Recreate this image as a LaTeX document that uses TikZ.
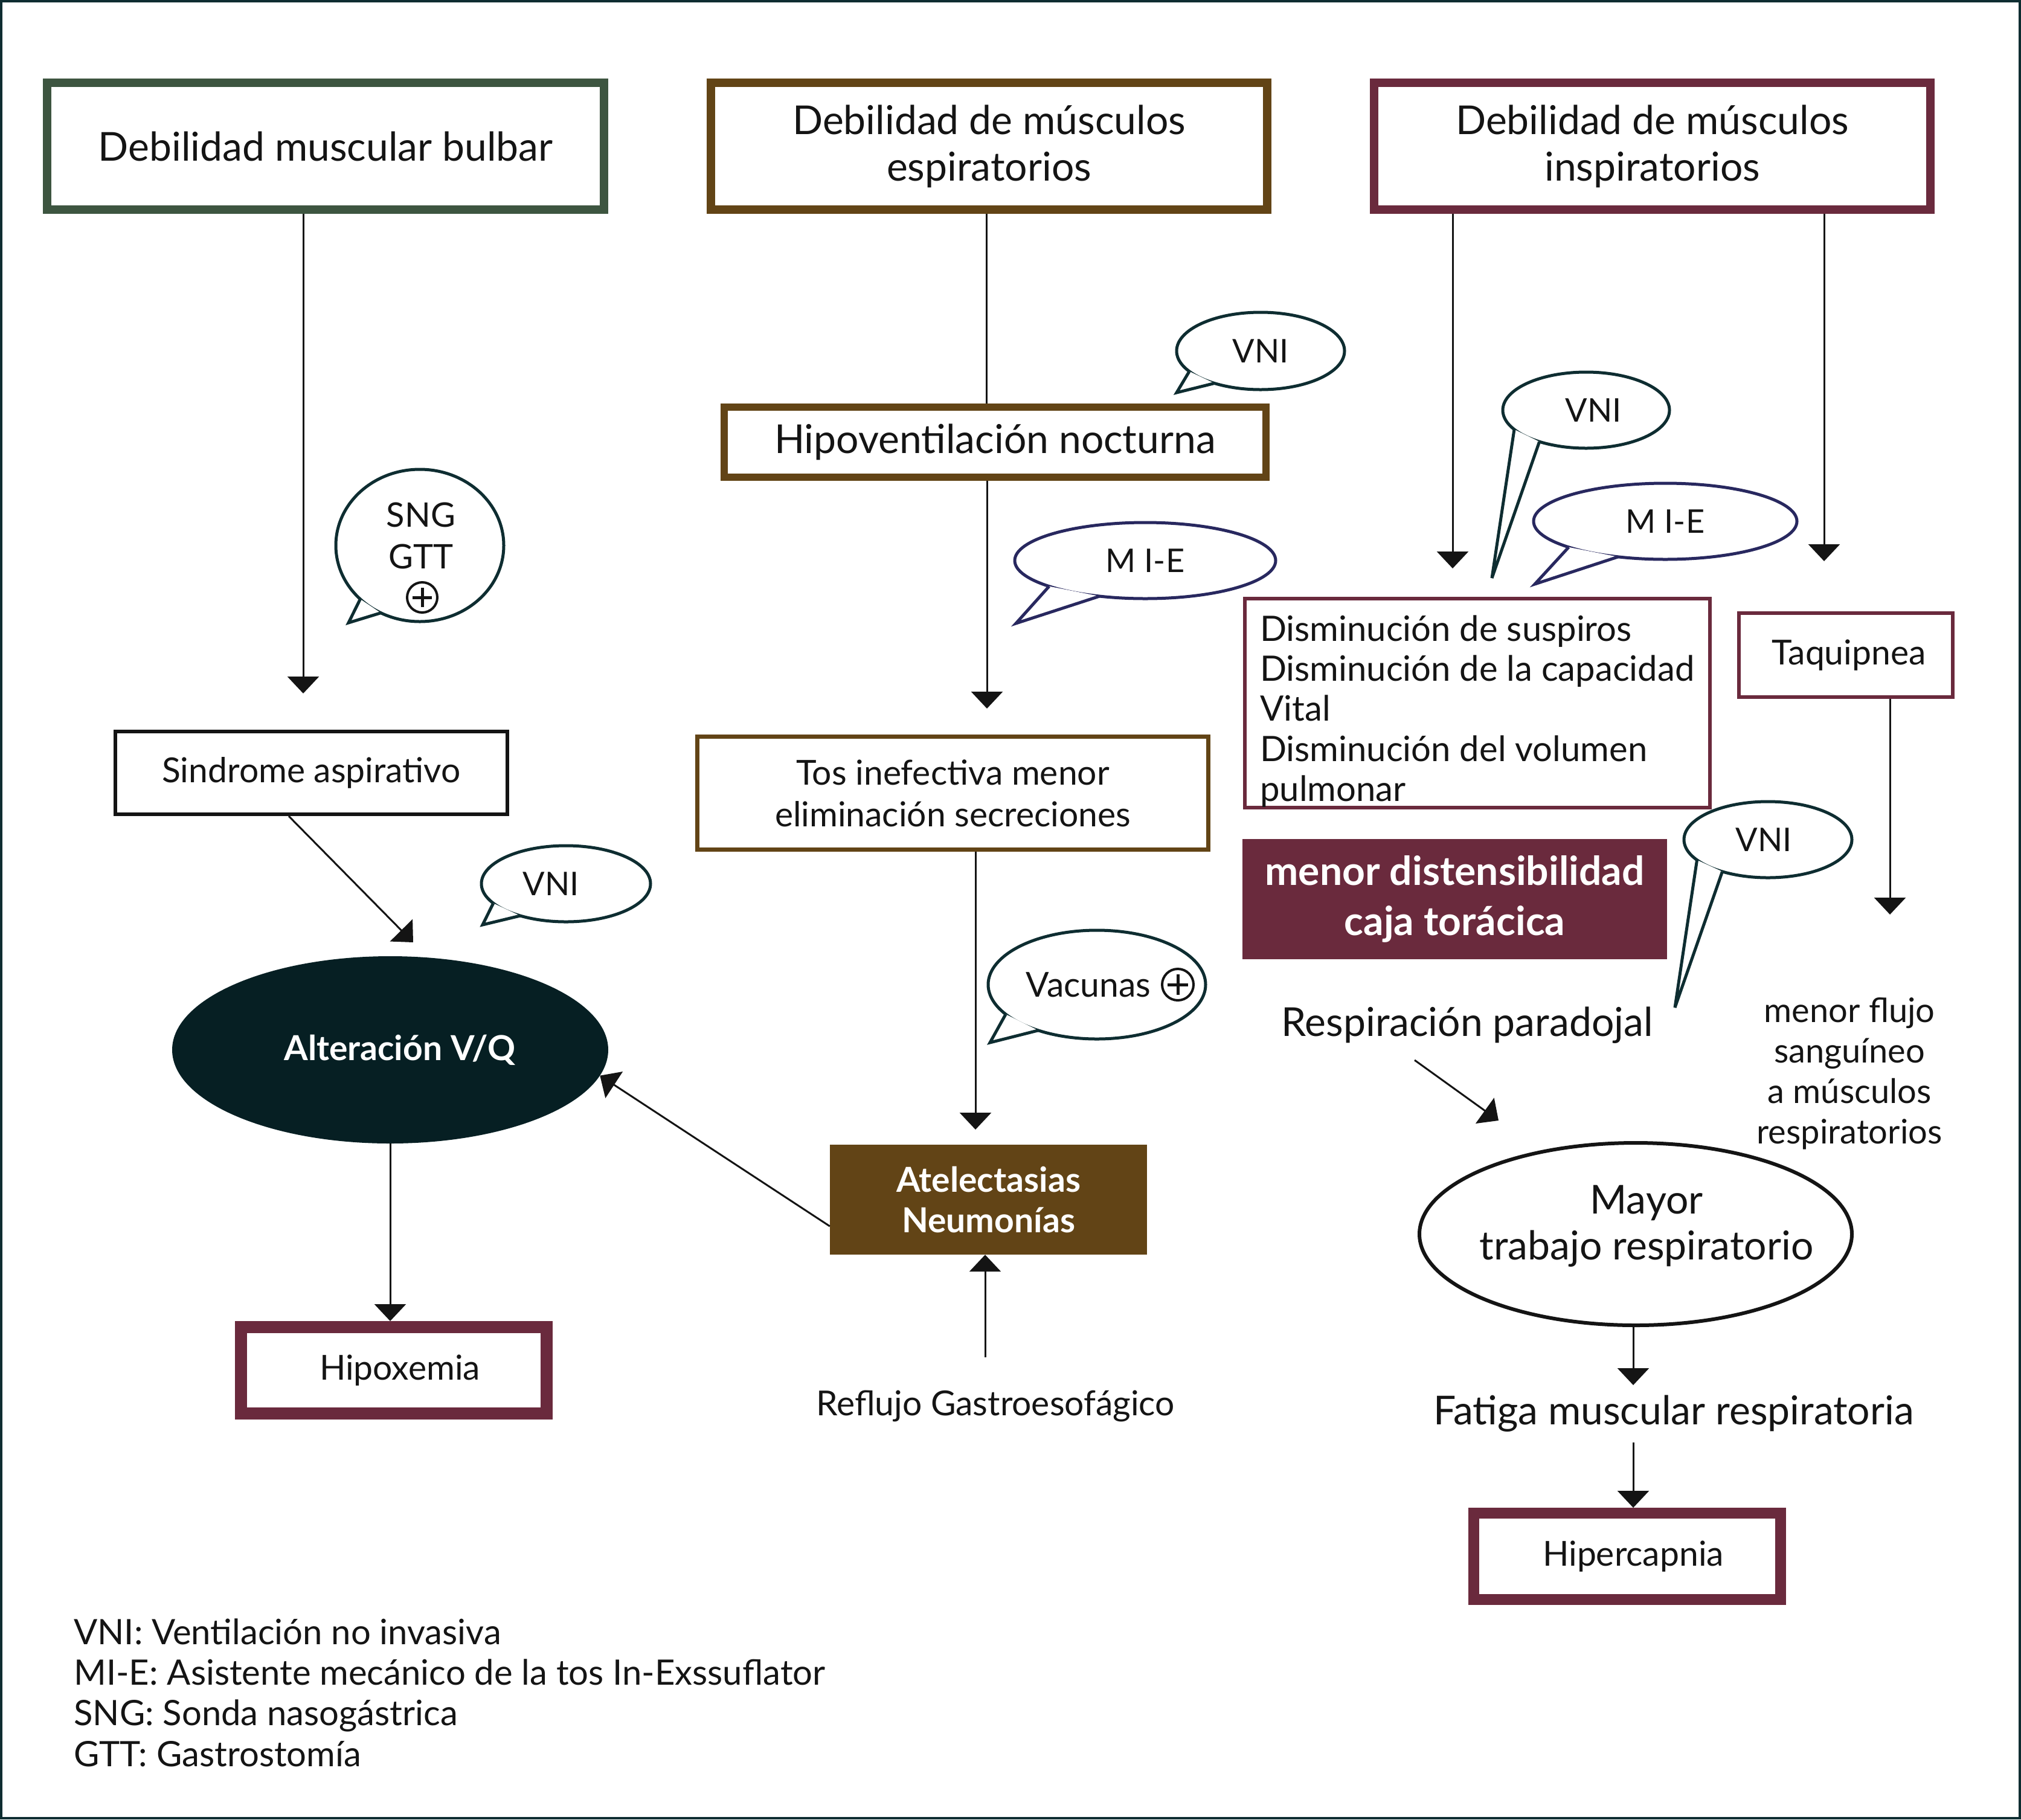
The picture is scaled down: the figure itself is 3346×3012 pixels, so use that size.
\documentclass[tikz,border=0pt]{standalone}
\usepackage{fontspec}
\setmainfont{Lato}
\usetikzlibrary{arrows.meta,shapes.geometric}
\definecolor{ink}{HTML}{141414}
\definecolor{cgreen}{HTML}{3D5540}
\definecolor{cbrown}{HTML}{624416}
\definecolor{cmaroon}{HTML}{6A2A3D}
\definecolor{cteal}{HTML}{0E2D31}
\definecolor{cnavy}{HTML}{28285F}
\definecolor{cdark}{HTML}{061F23}
\newcommand\fL{\fontsize{66}{77}\selectfont}
\newcommand\fM{\fontsize{57}{67}\selectfont}
\newcommand\fS{\fontsize{54}{60}\selectfont}
\begin{document}
\begin{tikzpicture}[x=1pt,y=-1pt,
  every node/.style={text=ink},
  hbox/.style={rectangle, draw=#1, line width=14pt, fill=white, inner sep=0pt, align=center, font=\fL},
  tbox/.style={rectangle, draw=#1, line width=6pt, fill=white, inner sep=0pt, align=center, font=\fM},
  fbox/.style={rectangle, fill=#1, inner sep=0pt, align=center, text=white},
  bub/.style={ellipse, draw=#1, line width=5pt, fill=white, inner sep=0pt, outer sep=0pt},
  tail/.style={draw=#1, line width=5pt, fill=white, line join=miter},
  ln/.style={draw=ink, line width=3pt},
  arr/.style={draw=ink, line width=3pt, -{Triangle[width=52pt,length=28pt]}},
  plusc/.style={circle, draw=ink, line width=4pt, minimum size=#1, inner sep=0pt}]
\useasboundingbox (0,0) rectangle (3346,3012);
\draw[cteal, line width=4pt] (2,2) rectangle (3344,3010);

% header boxes
\node[hbox=cgreen, minimum width=922pt, minimum height=210pt] (bulbar) at (539,242) {Debilidad muscular bulbar};
\node[hbox=cbrown, minimum width=921pt, minimum height=210pt] (espir) at (1637.5,242) {Debilidad de músculos\\espiratorios};
\node[hbox=cmaroon, minimum width=921pt, minimum height=210pt] (inspir) at (2735.5,242) {Debilidad de músculos\\inspiratorios};

% left column
\node[tbox=ink, minimum width=649pt, minimum height=137pt] (sind) at (515.5,1279.5) {Sindrome aspirativo};
\node[ellipse, fill=cdark, minimum width=722pt, minimum height=310pt, inner sep=0pt, font=\fM\bfseries, text=white] (alt) at (646,1738) {\hspace*{32pt}Alteración V/Q};
\node[rectangle, draw=cmaroon, line width=20pt, fill=white, minimum width=506pt, minimum height=143pt, inner sep=0pt, font=\fM] (hipox) at (652,2268.5) {\hspace*{20pt}Hipoxemia};

% middle column
\node[rectangle, draw=cbrown, line width=12pt, fill=white, minimum width=897pt, minimum height=116pt, inner sep=0pt, font=\fL] (hipo) at (1647.5,732) {Hipoventilación nocturna};
\node[tbox=cbrown, line width=7pt, minimum width=846pt, minimum height=187pt, font=\fontsize{57}{69}\selectfont] (tos) at (1577.5,1313) {Tos inefectiva menor\\eliminación secreciones};
\node[fbox=cbrown, minimum width=525pt, minimum height=182pt, font=\fM\bfseries] (atel) at (1636.5,1986) {Atelectasias\\Neumonías};
\node[font=\fM] (refl) at (1648,2328) {Reflujo Gastroesofágico};

% right column
\node[tbox=cmaroon, minimum width=770pt, minimum height=346pt] (dism) at (2446,1164) {};
\node[anchor=west, align=left, inner sep=0pt, font=\fontsize{58}{66.25}\selectfont] (dismtxt) at (2086,1177.5) {Disminución de suspiros\\Disminución de la capacidad\\Vital\\Disminución del volumen\\pulmonar};
\node[tbox=cmaroon, minimum width=354pt, minimum height=139pt] (taq) at (3056,1084.5) {\hspace*{10pt}Taquipnea};
\node[fbox=cmaroon, minimum width=703pt, minimum height=199pt, font=\fontsize{66}{83}\selectfont\bfseries] (menor) at (2408.5,1488.5) {menor distensibilidad\\caja torácica};
\node[font=\fL] (resp) at (2429,1697) {Respiración paradojal};
\node[align=center, font=\fontsize{56}{67}\selectfont] (flujo) at (3062,1777.5) {menor flujo\\sanguíneo\\a músculos\\respiratorios};
\node[ellipse, draw=ink, line width=6pt, fill=white, minimum width=716pt, minimum height=302pt, inner sep=0pt] (mayor) at (2708,2043) {};
\node[align=center, font=\fontsize{66}{76}\selectfont] (mayortxt) at (2726,2030) {Mayor\\trabajo respiratorio};
\node[font=\fL] (fatiga) at (2771,2340) {Fatiga muscular respiratoria};
\node[rectangle, draw=cmaroon, line width=18pt, fill=white, minimum width=508pt, minimum height=143pt, inner sep=0pt, font=\fM] (hiperc) at (2694,2576.5) {\hspace*{20pt}Hipercapnia};

% legend
\node[anchor=west, align=left, inner sep=0pt, font=\fontsize{58}{67.3}\selectfont] (legend) at (122,2802) {VNI: Ventilación no invasiva\\MI-E: Asistente mecánico de la tos In-Exssuflator\\SNG: Sonda nasogástrica\\GTT: Gastrostomía};

% connectors
\coordinate (t1) at (502,1148);
\draw[arr] (bulbar.south -| t1) -- (t1);
\coordinate (c2) at (1633,0);
\draw[ln] (espir.south -| c2) -- (hipo.north -| c2);
\coordinate (t2) at (1634,1173);
\draw[arr] (hipo.south -| t2) -- (t2);
\coordinate (t3) at (1615,1870);
\draw[arr] (tos.south -| t3) -- (t3);
\coordinate (r0) at (1631,2247);
\draw[arr] (r0) -- (atel.south -| r0);
\draw[arr] ([yshift=-44pt]atel.west) -- (alt.-7);
\coordinate (s6) at (478,0);
\coordinate (t6) at (684,1560);
\draw[arr] (sind.south -| s6) -- (t6);
\draw[arr] (alt.south) -- (hipox.north -| alt.south);
\coordinate (t8) at (2405,941);
\draw[arr] (inspir.south -| t8) -- (t8);
\coordinate (t9) at (3020,929);
\draw[arr] (inspir.south -| t9) -- (t9);
\coordinate (t10) at (3129,1514);
\draw[arr] (taq.south -| t10) -- (t10);
\coordinate (r11) at (2342,1755);
\coordinate (t11) at (2481,1855);
\draw[arr] (r11) -- (t11);
\coordinate (t12) at (2704,2293);
\draw[arr] (mayor.south -| t12) -- (t12);
\coordinate (f0) at (2704,2388);
\draw[arr] (f0) -- (hiperc.north -| f0);

% speech bubbles
\node[bub=cteal, minimum width=278pt, minimum height=128pt, font=\fS] (vniA) at (2087,581) {VNI};
\filldraw[tail=cteal] (vniA.196) -- (1948,650) -- (vniA.215);

\node[bub=cnavy, minimum width=432pt, minimum height=126pt, font=\fS] (mieA) at (1896,928) {M I-E};
\filldraw[tail=cnavy] (mieA.195) -- (1682,1032) -- (mieA.218);

\node[bub=cteal, minimum width=360pt, minimum height=180pt] (vacB) at (1816,1630) {};
\filldraw[tail=cteal] (vacB.198) -- (1639,1726) -- (vacB.218);
\node[font=\fM] (vactxt) at (1802,1630) {Vacunas};
\node[plusc=52pt] (vacplus) at (1950,1630) {};
\draw[ink, line width=5pt] (vacplus.center) ++(-17,0) -- ++(34,0) (vacplus.center) ++(0,-17) -- ++(0,34);

\node[bub=cteal, minimum width=278pt, minimum height=252pt] (sngB) at (695,903) {};
\filldraw[tail=cteal] (sngB.222) -- (577,1031) -- (sngB.240);
\node[align=center, font=\fontsize{56}{69}\selectfont] (sngtxt) at (697,887) {SNG\\GTT};
\node[plusc=50pt] (sngplus) at (699,989) {};
\draw[ink, line width=5pt] (sngplus.center) ++(-16,0) -- ++(32,0) (sngplus.center) ++(0,-16) -- ++(0,32);

\node[bub=cteal, minimum width=280pt, minimum height=126pt, font=\fS] (vniB) at (937,1463) {VNI\hspace*{50pt}};
\filldraw[tail=cteal] (vniB.195) -- (799,1531) -- (vniB.215);

\node[bub=cteal, minimum width=276pt, minimum height=126pt, font=\fS] (vniC) at (2626,679) {\hspace*{24pt}VNI};
\filldraw[tail=cteal] (vniC.195) -- (2470,957) -- (vniC.214);

\node[bub=cnavy, minimum width=436pt, minimum height=126pt, font=\fS] (mieB) at (2757,863) {M I-E};
\filldraw[tail=cnavy] (mieB.195) -- (2541,967) -- (mieB.217);

\node[bub=cteal, minimum width=278pt, minimum height=126pt, font=\fS] (vniD) at (2927,1390) {VNI\hspace*{14pt}};
\filldraw[tail=cteal] (vniD.196) -- (2773,1668) -- (vniD.215);
\end{tikzpicture}
\end{document}
